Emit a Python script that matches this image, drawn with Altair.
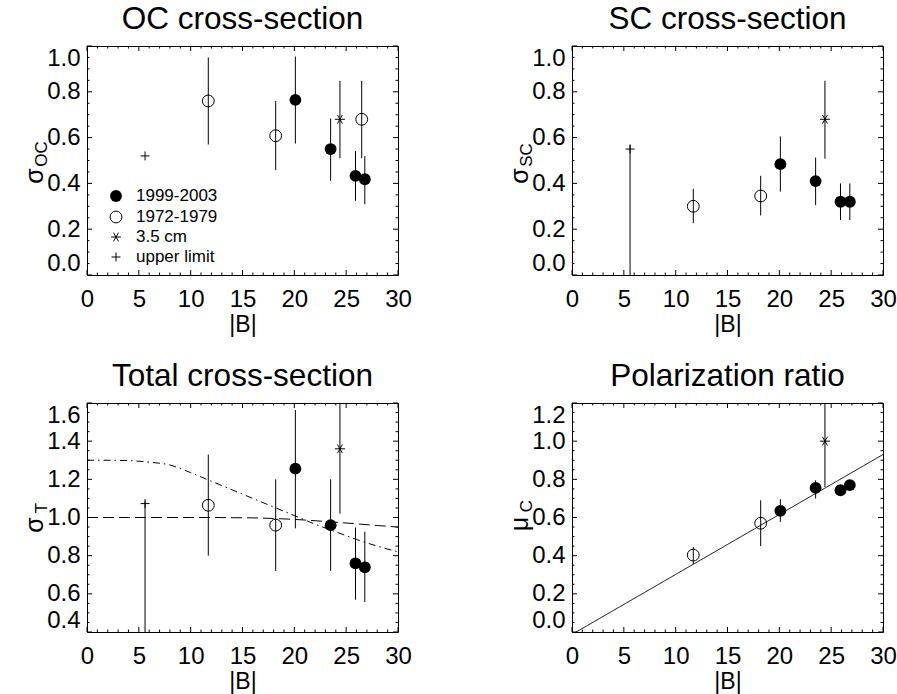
import altair as alt
import pandas as pd

FONT = "Liberation Sans"

# ---------------- data ----------------
# |B| positions
B_new = [20.1, 23.5, 25.9, 26.8]       # 1999-2003 (filled circles)
B_old = [11.7, 18.2]                   # 1972-1979 (open circles)
B_old_oc = [11.7, 18.2, 26.5]          # 1972-1979 in the OC panel
B_35 = [24.4]                          # 3.5 cm (asterisk)
B_ul = [5.6]                           # upper limit (plus)

# OC cross-section
oc_new = [0.765, 0.55, 0.433, 0.418]
oc_new_lo = [0.574, 0.411, 0.324, 0.309]
oc_new_hi = [0.954, 0.683, 0.542, 0.520]
oc_old = [0.76, 0.608, 0.68]
oc_old_lo = [0.57, 0.458, 0.51]
oc_old_hi = [0.95, 0.76, 0.848]
oc_35 = [0.68]
oc_35_lo = [0.51]
oc_35_hi = [0.848]
oc_ul = [0.52]

# SC cross-section
sc_new = [0.484, 0.41, 0.32, 0.32]
sc_new_lo = [0.364, 0.305, 0.24, 0.24]
sc_new_hi = [0.605, 0.513, 0.40, 0.40]
sc_old = [0.30, 0.345]
sc_old_lo = [0.226, 0.26]
sc_old_hi = [0.377, 0.433]
sc_35 = [0.68]
sc_35_lo = [0.508]
sc_35_hi = [0.848]
sc_ul = [0.55]
sc_ul_lo = [0.0]
sc_ul_hi = [0.568]

# Total cross-section
t_new = [1.256, 0.96, 0.76, 0.739]
t_new_lo = [0.943, 0.72, 0.569, 0.557]
t_new_hi = [1.563, 1.20, 0.948, 0.925]
t_old = [1.064, 0.96]
t_old_lo = [0.80, 0.72]
t_old_hi = [1.33, 1.20]
t_35 = [1.36]
t_35_lo = [1.02]
t_35_hi = [1.70]
t_ul = [1.073]
t_ul_lo = [0.0]
t_ul_hi = [1.085]

# model curves in the total cross-section panel
curve_B = [0, 2, 4, 6, 8, 10, 12, 14, 16, 18, 20, 22, 24, 26, 28, 30]
curve_dashdot = [1.30, 1.30, 1.298, 1.29, 1.275, 1.235, 1.19, 1.145, 1.10, 1.055,
                 1.01, 0.965, 0.925, 0.885, 0.85, 0.82]
curve_dashed = [1.0, 1.0, 1.0, 1.0, 1.0, 1.0, 1.0, 0.999, 0.998, 0.995,
                0.99, 0.983, 0.975, 0.967, 0.958, 0.95]

# Polarization ratio
mu_new = [0.635, 0.755, 0.743, 0.77]
mu_new_lo = [0.577, 0.70, 0.72, 0.75]
mu_new_hi = [0.696, 0.795, 0.765, 0.79]
mu_old = [0.403, 0.57]
mu_old_lo = [0.357, 0.45]
mu_old_hi = [0.445, 0.69]
mu_35 = [1.0]
mu_35_lo = [0.76]
mu_35_hi = [1.24]
fit_B = [0.4, 30.0]
fit_mu = [0.0, 0.93]

# legend
LEG_LABELS = ["1999-2003", "1972-1979", "3.5 cm", "upper limit"]

# axis ticks
X_MAJOR = [0, 5, 10, 15, 20, 25, 30]
X_MINOR = [b for b in range(31) if b % 5]
Y_MAJOR_1 = [0.0, 0.2, 0.4, 0.6, 0.8, 1.0]
Y_MAJOR_3 = [0.4, 0.6, 0.8, 1.0, 1.2, 1.4, 1.6]
Y_MAJOR_4 = [0.0, 0.2, 0.4, 0.6, 0.8, 1.0, 1.2]


def minors(lo, hi):
    n = int(round((hi - lo) / 0.05))
    return [round(lo + 0.05 * i, 3) for i in range(1, n) if i % 4]


# ---------------- styling ----------------
W, H = 311, 229
STAR = "M-1,0L1,0M-0.5,-0.866L0.5,0.866M-0.5,0.866L0.5,-0.866"
PLUS = "M-1,0L1,0M0,-1L0,1"

XAX = alt.Axis(values=X_MAJOR, labelFontSize=24, labelFont=FONT, labelColor="black",
               labelPadding=12, labelFlush=False, ticks=False, domain=False, grid=False,
               titleFontSize=23, titleFont=FONT, titleFontWeight="normal",
               titleColor="black", titlePadding=2)


def make_panel(title, ydom, ymaj, groups, sym, sub, sym_y, sub_y, lines=(), legend=False):
    yax = alt.Axis(values=ymaj, format=".1f", labelFontSize=24, labelFont=FONT,
                   labelColor="black", labelPadding=7, labelFlush=True,
                   labelFlushOffset=0, ticks=False, domain=False, grid=False)

    def Xf(f):
        return alt.X(f"{f}:Q", scale=alt.Scale(domain=[0, 30], nice=False, zero=False),
                     axis=XAX, title="|B|")

    def Yf(f):
        return alt.Y(f"{f}:Q", scale=alt.Scale(domain=ydom, nice=False, zero=False),
                     axis=yax, title=None)

    layers = []
    # inward ticks on all four sides
    for vals, ln in ((X_MAJOR, 5), (X_MINOR, 2.5)):
        d = pd.DataFrame({"t": vals})
        r = alt.Chart(d).mark_rule(color="black", strokeWidth=1)
        layers.append(r.encode(x=Xf("t"), y=alt.value(H), y2=alt.value(H - ln)))
        layers.append(r.encode(x=Xf("t"), y=alt.value(0), y2=alt.value(ln)))
    for vals, ln in ((ymaj, 5), (minors(ydom[0], ydom[1]), 2.5)):
        d = pd.DataFrame({"t": vals})
        r = alt.Chart(d).mark_rule(color="black", strokeWidth=1)
        layers.append(r.encode(y=Yf("t"), x=alt.value(0), x2=alt.value(ln)))
        layers.append(r.encode(y=Yf("t"), x=alt.value(W), x2=alt.value(W - ln)))

    for (bx, by, dash) in lines:
        d = pd.DataFrame({"B": bx, "v": by})
        layers.append(alt.Chart(d).mark_line(color="black", strokeWidth=1, strokeDash=dash,
                                             clip=True, interpolate="monotone")
                      .encode(x=Xf("B"), y=Yf("v")))

    for g in groups:
        d = pd.DataFrame({"B": g["B"], "v": g["v"]})
        if g.get("lo") is not None:
            d["lo"] = g["lo"]
            d["hi"] = g["hi"]
            layers.append(alt.Chart(d).mark_rule(color="black", strokeWidth=1, clip=True)
                          .encode(x=Xf("B"), y=Yf("lo"), y2="hi"))
        k = g["kind"]
        if k == "new":
            m = alt.Chart(d).mark_point(shape="circle", filled=True, size=140,
                                        color="black", opacity=1)
        elif k == "old":
            m = alt.Chart(d).mark_point(shape="circle", filled=False, size=140,
                                        color="black", strokeWidth=1, opacity=1)
        elif k == "35":
            m = alt.Chart(d).mark_point(shape=STAR, filled=False, size=100,
                                        color="black", strokeWidth=1, opacity=1)
        else:
            m = alt.Chart(d).mark_point(shape=PLUS, filled=False, size=81,
                                        color="black", strokeWidth=1, opacity=1)
        layers.append(m.encode(x=Xf("B"), y=Yf("v")))

    if legend:
        ys = [150, 171, 191, 211]
        styles = [dict(shape="circle", filled=True, size=140),
                  dict(shape="circle", filled=False, size=140, strokeWidth=1),
                  dict(shape=STAR, filled=False, size=100, strokeWidth=1),
                  dict(shape=PLUS, filled=False, size=81, strokeWidth=1)]
        for lab, yy, st in zip(LEG_LABELS, ys, styles):
            d = pd.DataFrame({"k": [lab]})
            layers.append(alt.Chart(d).mark_point(color="black", opacity=1, **st)
                          .encode(x=alt.value(29), y=alt.value(yy)))
            layers.append(alt.Chart(d).mark_text(align="left", baseline="middle",
                                                 fontSize=17, font=FONT, color="black")
                          .encode(x=alt.value(49), y=alt.value(yy), text="k:N"))

    # y-axis title with subscript
    d1 = pd.DataFrame({"t": [sym]})
    d2 = pd.DataFrame({"t": [sub]})
    layers.append(alt.Chart(d1).mark_text(angle=270, align="center", baseline="middle",
                                          fontSize=25, font=FONT, color="black")
                  .encode(x=alt.value(-52), y=alt.value(sym_y), text="t:N"))
    layers.append(alt.Chart(d2).mark_text(angle=270, align="center", baseline="middle",
                                          fontSize=17, font=FONT, color="black")
                  .encode(x=alt.value(-45), y=alt.value(sub_y), text="t:N"))

    return alt.layer(*layers).properties(
        width=W, height=H,
        title=alt.TitleParams(text=title, fontSize=31.5, font=FONT, fontWeight="normal",
                              color="black", anchor="middle", baseline="alphabetic",
                              offset=-15))


p1 = make_panel("OC cross-section", [0, 1.0], Y_MAJOR_1, [
    dict(B=B_new, v=oc_new, lo=oc_new_lo, hi=oc_new_hi, kind="new"),
    dict(B=B_old_oc, v=oc_old, lo=oc_old_lo, hi=oc_old_hi, kind="old"),
    dict(B=B_35, v=oc_35, lo=oc_35_lo, hi=oc_35_hi, kind="35"),
    dict(B=B_ul, v=oc_ul, kind="ul"),
], "σ", "OC", 130, 108, legend=True)

p2 = make_panel("SC cross-section", [0, 1.0], Y_MAJOR_1, [
    dict(B=B_new, v=sc_new, lo=sc_new_lo, hi=sc_new_hi, kind="new"),
    dict(B=B_old, v=sc_old, lo=sc_old_lo, hi=sc_old_hi, kind="old"),
    dict(B=B_35, v=sc_35, lo=sc_35_lo, hi=sc_35_hi, kind="35"),
    dict(B=B_ul, v=sc_ul, lo=sc_ul_lo, hi=sc_ul_hi, kind="ul"),
], "σ", "SC", 130, 109)

p3 = make_panel("Total cross-section", [0.4, 1.6], Y_MAJOR_3, [
    dict(B=B_new, v=t_new, lo=t_new_lo, hi=t_new_hi, kind="new"),
    dict(B=B_old, v=t_old, lo=t_old_lo, hi=t_old_hi, kind="old"),
    dict(B=B_35, v=t_35, lo=t_35_lo, hi=t_35_hi, kind="35"),
    dict(B=B_ul, v=t_ul, lo=t_ul_lo, hi=t_ul_hi, kind="ul"),
], "σ", "T", 122, 105, lines=[(curve_B, curve_dashdot, [7, 4, 1.5, 4]),
                              (curve_B, curve_dashed, [11, 5])])

p4 = make_panel("Polarization ratio", [0, 1.2], Y_MAJOR_4, [
    dict(B=B_new, v=mu_new, lo=mu_new_lo, hi=mu_new_hi, kind="new"),
    dict(B=B_old, v=mu_old, lo=mu_old_lo, hi=mu_old_hi, kind="old"),
    dict(B=B_35, v=mu_35, lo=mu_35_lo, hi=mu_35_hi, kind="35"),
], "μ", "C", 121, 103, lines=[(fit_B, fit_mu, [1, 0])])

chart = (alt.concat(p1, p2, p3, p4, columns=2, spacing={"row": 128, "column": 174},
                    bounds="flush")
         .properties(padding={"left": 22, "top": 3, "right": 0, "bottom": 0},
                     background="white")
         .configure_view(stroke="black", strokeWidth=1))

chart.save("out.html", embed_options={"renderer": "svg", "actions": False})
